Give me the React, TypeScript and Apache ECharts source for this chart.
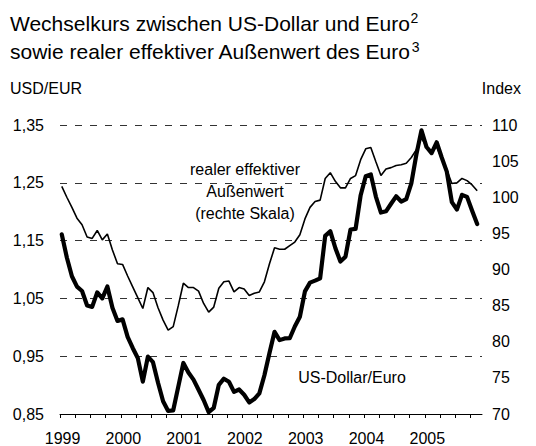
import React, { useEffect, useRef } from 'react';
import * as echarts from 'echarts';

// Monthly values, January 1999 to November 2005
const yearLabels = ['1999', '2000', '2001', '2002', '2003', '2004', '2005'];

const usdPerEur = [
  1.1608, 1.1208, 1.0883, 1.0704, 1.0628, 1.0378, 1.0353, 1.0604, 1.0501, 1.0706, 1.0338, 1.0110,
  1.0137, 0.9834, 0.9643, 0.9470, 0.9060, 0.9492, 0.9397, 0.9041, 0.8721, 0.8552, 0.8564, 0.8973,
  0.9383, 0.9217, 0.9095, 0.8920, 0.8742, 0.8532, 0.8607, 0.9005, 0.9111, 0.9059, 0.8883, 0.8924,
  0.8833, 0.8700, 0.8758, 0.8858, 0.9170, 0.9554, 0.9922, 0.9778, 0.9808, 0.9811, 1.0014, 1.0183,
  1.0622, 1.0773, 1.0807, 1.0848, 1.1582, 1.1663, 1.1372, 1.1139, 1.1222, 1.1692, 1.1702, 1.2286,
  1.2613, 1.2646, 1.2262, 1.1985, 1.2007, 1.2138, 1.2266, 1.2176, 1.2218, 1.2490, 1.2991, 1.3408,
  1.3119, 1.3014, 1.3201, 1.2938, 1.2694, 1.2165, 1.2037, 1.2292, 1.2256, 1.2015, 1.1786,
];

const realEffectiveIndex = [
  101.5, 100.0, 98.6, 97.1, 96.2, 94.5, 94.3, 95.4, 94.1, 94.9, 92.7, 90.8,
  90.7, 89.1, 87.6, 86.1, 84.6, 87.5, 86.8, 84.7, 83.0, 81.6, 82.1, 85.0,
  88.1, 87.5, 87.5, 87.0, 85.3, 84.1, 84.8, 87.4, 88.3, 88.4, 86.9, 87.5,
  87.3, 86.4, 86.7, 86.9, 88.3, 90.8, 93.0, 92.8, 92.8, 93.3, 93.8, 94.8,
  97.0, 98.6, 99.4, 99.6, 102.6, 103.4, 102.2, 101.3, 101.3, 102.6, 103.0, 105.2,
  106.7, 106.9, 104.9, 103.0, 103.9, 104.1, 104.4, 104.5, 104.7, 105.5, 106.6, 108.2,
  107.0, 106.3, 107.0, 105.3, 103.8, 101.9, 102.0, 102.6, 102.3, 101.7, 100.9,
];

const titleLines = [
  'Wechselkurs zwischen US-Dollar und Euro',
  'sowie realer effektiver Außenwert des Euro',
];
const titleNotes = ['2', '3'];

const leftMin = 0.85;
const leftMax = 1.35;
const leftStep = 0.1;
const rightMin = 70;
const rightMax = 110;
const rightStep = 5;

const FONT = '"Liberation Sans", Arial, Helvetica, sans-serif';

function measure(text: string, size: number): number {
  const c = document.createElement('canvas').getContext('2d');
  if (!c) return text.length * size * 0.5;
  c.font = `${size}px "Liberation Sans", Arial, sans-serif`;
  return c.measureText(text).width;
}

export default function App() {
  const ref = useRef<HTMLDivElement>(null);

  useEffect(() => {
    const chart = echarts.init(ref.current!, null, { renderer: 'svg' });
    const monthOffset = 0.35;
    const quarterTicks = Array.from({ length: 28 }, (_, k) => k * 3);
    const yearPositions = yearLabels.map((_, k) => k * 12 + 0.5);

    const titleX = 10;
    const titleY = [23, 51];
    const noteY = [18, 47];
    const titleGraphics: any[] = [];
    titleLines.forEach((line, k) => {
      titleGraphics.push({
        type: 'text',
        x: titleX,
        y: titleY[k],
        style: { text: line, fontSize: 21, fontFamily: FONT, fill: '#000', verticalAlign: 'middle' },
      });
      titleGraphics.push({
        type: 'text',
        x: titleX + measure(line, 21) + 0.5,
        y: noteY[k],
        style: { text: titleNotes[k], fontSize: 14, fontFamily: FONT, fill: '#000', verticalAlign: 'middle' },
      });
    });

    chart.setOption({
      animation: false,
      backgroundColor: '#ffffff',
      textStyle: { fontFamily: FONT, color: '#000' },
      grid: {
        left: 60,
        right: 54,
        top: 125,
        bottom: 32,
        containLabel: false,
        outerBoundsMode: 'none',
      },
      xAxis: {
        type: 'value',
        min: 0,
        max: 83.3,
        axisLine: { show: true, lineStyle: { color: '#000', width: 1 } },
        axisTick: {
          show: true,
          inside: false,
          length: 4,
          customValues: quarterTicks,
          lineStyle: { color: '#000', width: 1 },
        },
        axisLabel: {
          customValues: yearPositions,
          margin: 16,
          fontSize: 16,
          fontFamily: FONT,
          color: '#000',
          formatter: (v: number) => yearLabels[Math.round((v - 0.5) / 12)] ?? '',
        },
        splitLine: { show: false },
      },
      yAxis: [
        {
          type: 'value',
          min: leftMin,
          max: leftMax,
          interval: leftStep,
          position: 'left',
          axisLine: { show: false },
          axisTick: { show: false },
          axisLabel: {
            margin: 16,
            fontSize: 16,
            fontFamily: FONT,
            color: '#000',
            formatter: (v: number) => v.toFixed(2).replace('.', ','),
          },
          splitLine: {
            show: true,
            lineStyle: { color: '#333', width: 1, type: [7, 8] },
          },
        },
        {
          type: 'value',
          min: rightMin,
          max: rightMax,
          interval: rightStep,
          position: 'right',
          axisLine: { show: false },
          axisTick: { show: false },
          axisLabel: {
            margin: 10,
            fontSize: 16,
            fontFamily: FONT,
            color: '#000',
            formatter: (v: number) => String(Math.round(v)),
          },
          splitLine: { show: false },
        },
      ],
      series: [
        {
          type: 'line',
          name: 'realer effektiver Außenwert',
          yAxisIndex: 1,
          showSymbol: false,
          symbol: 'none',
          data: realEffectiveIndex.map((v, i) => [i + monthOffset, v]),
          lineStyle: { color: '#000', width: 1.6 },
          z: 2,
        },
        {
          type: 'line',
          name: 'US-Dollar/Euro',
          yAxisIndex: 0,
          showSymbol: false,
          symbol: 'none',
          data: usdPerEur.map((v, i) => [i + monthOffset, v]),
          lineStyle: { color: '#000', width: 4.2, join: 'round', cap: 'round' },
          z: 3,
        },
      ],
      graphic: [
        ...titleGraphics,
        {
          type: 'text',
          x: 10,
          y: 88,
          style: { text: 'USD/EUR', fontSize: 16, fontFamily: FONT, fill: '#000', verticalAlign: 'middle' },
        },
        {
          type: 'text',
          x: 521,
          y: 88,
          style: { text: 'Index', fontSize: 16, fontFamily: FONT, fill: '#000', align: 'right', verticalAlign: 'middle' },
        },
        {
          type: 'text',
          x: 245,
          y: 191,
          style: {
            text: 'realer effektiver\nAußenwert\n(rechte Skala)',
            fontSize: 16,
            lineHeight: 22,
            fontFamily: FONT,
            fill: '#000',
            align: 'center',
            verticalAlign: 'middle',
          },
        },
        {
          type: 'text',
          x: 352,
          y: 377,
          style: {
            text: 'US-Dollar/Euro',
            fontSize: 16,
            fontFamily: FONT,
            fill: '#000',
            align: 'center',
            verticalAlign: 'middle',
          },
        },
      ],
    });

    return () => chart.dispose();
  }, []);

  return (
    <div
      ref={ref}
      style={{ position: 'fixed', left: 0, top: 0, width: 536, height: 446, background: '#fff' }}
    />
  );
}
